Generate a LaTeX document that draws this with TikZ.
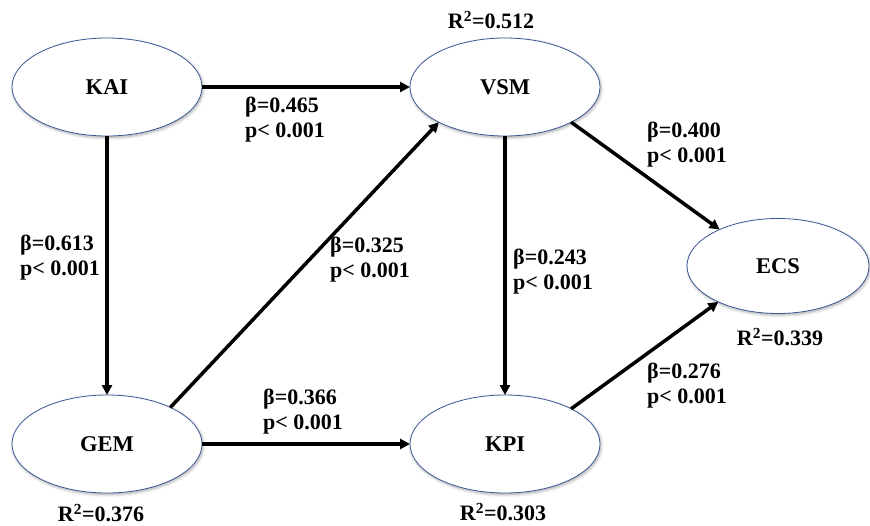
\documentclass[tikz,border=0pt]{standalone}
\usepackage{fontspec}
\setmainfont{Liberation Serif}
\usetikzlibrary{shapes.geometric,arrows.meta,shadows.blur}
\definecolor{ellborder}{HTML}{3A5894}
\tikzset{
  construct/.style={ellipse, draw=ellborder, line width=0.8pt, fill=white,
    minimum width=190pt, minimum height=98pt, inner sep=0pt, outer sep=0pt,
    font=\fontsize{22.5}{25}\selectfont\bfseries,
    blur shadow={shadow blur steps=6, shadow xshift=1pt, shadow yshift=-1.5pt, shadow opacity=35, shadow blur radius=3pt}},
  path/.style={line width=3.5pt, -{Triangle[length=10pt,width=10pt]}},
  coef/.style={anchor=west, align=left, inner sep=0pt, font=\fontsize{22}{25}\selectfont\bfseries},
  rsq/.style={inner sep=0pt, font=\fontsize{22}{25}\selectfont\bfseries}
}
\begin{document}
\begin{tikzpicture}[x=1pt,y=-1pt]
\useasboundingbox (0,0) rectangle (870,525);
\node[construct] (KAI) at (107,87) {KAI};
\node[construct] (VSM) at (505,87) {VSM};
\node[construct] (GEM) at (107,444) {GEM};
\node[construct] (KPI) at (505,444) {KPI};
\node[construct, minimum width=182pt, minimum height=95pt] (ECS) at (778,266) {ECS};

\draw[path] (KAI.east) -- (VSM.west);
\draw[path] (KAI.south) -- (GEM.north);
\draw[path] (GEM.30) -- (VSM.208);
\draw[path] (GEM.east) -- (KPI.west);
\draw[path] (VSM.south) -- (KPI.north);
\draw[path] (VSM.332) -- (ECS.148);
\draw[path] (KPI.28) -- (ECS.211);

\node[coef] (c1) at (245,119.5) {β=0.465\\p< 0.001};
\node[coef] (c2) at (647,144.5) {β=0.400\\p< 0.001};
\node[coef] (c3) at (20,257.5) {β=0.613\\p< 0.001};
\node[coef] (c4) at (330,259.5) {β=0.325\\p< 0.001};
\node[coef] (c5) at (513,272) {β=0.243\\p< 0.001};
\node[coef] (c6) at (647,385.5) {β=0.276\\p< 0.001};
\node[coef] (c7) at (263,411.5) {β=0.366\\p< 0.001};

\node[rsq] (r1) at (491,20) {R\textsuperscript{2}=0.512};
\node[rsq] (r2) at (101,513) {R\textsuperscript{2}=0.376};
\node[rsq] (r3) at (503,512) {R\textsuperscript{2}=0.303};
\node[rsq] (r4) at (780,337) {R\textsuperscript{2}=0.339};
\end{tikzpicture}
\end{document}
